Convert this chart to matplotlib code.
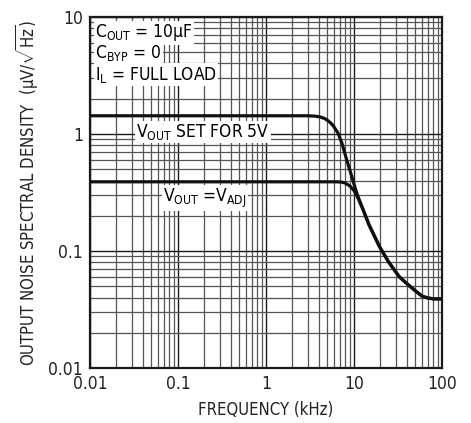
import matplotlib
matplotlib.use('Agg')
import matplotlib.pyplot as plt
from matplotlib.ticker import LogLocator, FixedLocator, FixedFormatter, NullFormatter

plt.rcParams['font.family'] = ['DejaVu Sans']
plt.rcParams['font.stretch'] = 'condensed'
plt.rcParams['mathtext.fontset'] = 'custom'
plt.rcParams['mathtext.rm'] = 'DejaVu Sans:stretch=condensed'
plt.rcParams['mathtext.it'] = 'DejaVu Sans:stretch=condensed'
plt.rcParams['mathtext.sf'] = 'DejaVu Sans:stretch=condensed'

# Curves (frequency in kHz, noise in uV/rtHz)
freq_5v = [0.01, 1, 3, 3.6, 4.1, 4.6, 5.0, 5.4, 5.8, 6.6, 7.3, 8.3, 9.5, 10.3,
           11, 12.6, 15, 19.7, 25, 33, 42, 52, 60, 69, 80, 100]
noise_5v = [1.43, 1.43, 1.43, 1.42, 1.40, 1.36, 1.31, 1.25, 1.18, 1.02, 0.84,
            0.60, 0.43, 0.35, 0.30, 0.23, 0.165, 0.108, 0.080, 0.060, 0.051,
            0.0446, 0.041, 0.0397, 0.039, 0.039]

freq_adj = [0.01, 3, 6.3, 7.2, 8.0, 9.0, 10.0, 11, 12.6, 15, 19.7, 25, 33, 42,
            52, 60, 69, 80, 100]
noise_adj = [0.39, 0.39, 0.39, 0.388, 0.38, 0.36, 0.33, 0.29, 0.23, 0.165,
             0.108, 0.080, 0.060, 0.051, 0.0446, 0.041, 0.0397, 0.039, 0.039]

x_ticks = [0.01, 0.1, 1, 10, 100]
x_labels = ['0.01', '0.1', '1', '10', '100']
y_ticks = [0.01, 0.1, 1, 10]
y_labels = ['0.01', '0.1', '1', '10']

fig = plt.figure(figsize=(4.71, 4.23), dpi=100)
ax = fig.add_axes([0.191, 0.130, 0.747, 0.830])

ax.set_xscale('log')
ax.set_yscale('log')
ax.set_xlim(0.01, 100)
ax.set_ylim(0.01, 10)

ax.xaxis.set_major_locator(FixedLocator(x_ticks))
ax.xaxis.set_major_formatter(FixedFormatter(x_labels))
ax.yaxis.set_major_locator(FixedLocator(y_ticks))
ax.yaxis.set_major_formatter(FixedFormatter(y_labels))
ax.xaxis.set_minor_locator(LogLocator(base=10, subs=range(2, 10), numticks=20))
ax.yaxis.set_minor_locator(LogLocator(base=10, subs=range(2, 10), numticks=20))
ax.xaxis.set_minor_formatter(NullFormatter())
ax.yaxis.set_minor_formatter(NullFormatter())

ax.grid(which='major', color='#1a1a1a', linewidth=1.0)
ax.grid(which='minor', color='#555555', linewidth=0.9)
ax.tick_params(which='both', length=0, labelsize=12.5, pad=5, colors='#222')
for s in ax.spines.values():
    s.set_linewidth(1.6)
    s.set_color('#1a1a1a')

ax.plot(freq_5v, noise_5v, color='#111', linewidth=2.3, zorder=5)
ax.plot(freq_adj, noise_adj, color='#111', linewidth=2.3, zorder=5)

box = dict(facecolor='white', edgecolor='none', pad=1.0)
ax.text(0.0114, 7.3, r'C$_{\mathrm{OUT}}$ = 10µF', fontsize=12.5, va='center',
        ha='left', bbox=box, zorder=6)
ax.text(0.0114, 4.9, r'C$_{\mathrm{BYP}}$ = 0', fontsize=12.5, va='center',
        ha='left', bbox=box, zorder=6)
ax.text(0.0114, 3.2, r'I$_{\mathrm{L}}$ = FULL LOAD', fontsize=12.5, va='center',
        ha='left', bbox=box, zorder=6)
ax.text(0.192, 1.04, r'V$_{\mathrm{OUT}}$ SET FOR 5V', fontsize=12.5, va='center',
        ha='center', bbox=box, zorder=6)
ax.text(0.203, 0.284, r'V$_{\mathrm{OUT}}$ =V$_{\mathrm{ADJ}}$', fontsize=12.5,
        va='center', ha='center', bbox=box, zorder=6)

ax.set_xlabel('FREQUENCY (kHz)', fontsize=12, color='#222', labelpad=6)
ax.set_ylabel(r'OUTPUT NOISE SPECTRAL DENSITY  (µV/$\sqrt{\mathrm{Hz}}$)',
              fontsize=12, color='#222', labelpad=6)

fig.savefig('out.png', dpi=100)
